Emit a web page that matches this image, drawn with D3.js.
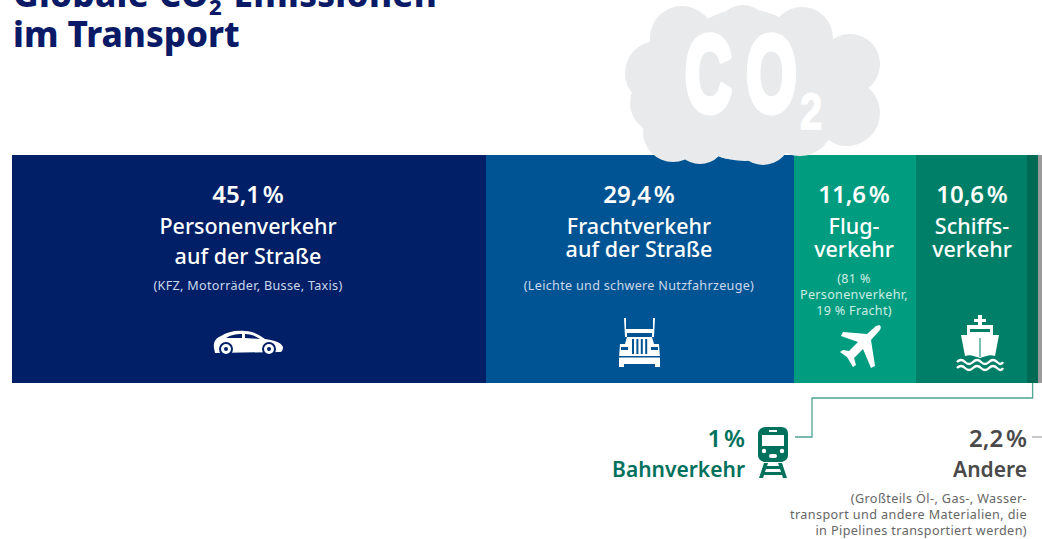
<!DOCTYPE html>
<html>
<head>
<meta charset="utf-8">
<script src="https://cdn.jsdelivr.net/npm/d3@7"></script>
<style>
html,body{margin:0;padding:0;background:#fff;overflow:hidden}
svg{display:block;font-family:"Noto Sans",sans-serif}
</style>
</head>
<body>
<div id="graph"></div>
<script>
var categories = ['Personenverkehr auf der Straße', 'Frachtverkehr auf der Straße', 'Flugverkehr', 'Schiffsverkehr', 'Bahnverkehr', 'Andere']
var values = [45.1, 29.4, 11.6, 10.6, 1, 2.2]
var valueLabels = ['45,1 %', '29,4 %', '11,6 %', '10,6 %', '1 %', '2,2 %']
var colors = ['#001f66', '#005493', '#009c80', '#007f68', '#006a55', '#9a9a9a']
var headLines = [['Personenverkehr', 'auf der Straße'], ['Frachtverkehr', 'auf der Straße'], ['Flug-', 'verkehr'], ['Schiffs-', 'verkehr']]
var subLines = [['(KFZ, Motorräder, Busse, Taxis)'], ['(Leichte und schwere Nutzfahrzeuge)'], ['(81 %', 'Personenverkehr,', '19 % Fracht)'], []]
var andereLines = ['(Großteils Öl-, Gas-, Wasser-', 'transport und andere Materialien, die', 'in Pipelines transportiert werden)']

var width = 1042
var height = 539
var barTop = 155
var barBottom = 383

var svg = d3.select('#graph').append('svg')
	.attr('width', width)
	.attr('height', height)

// the picture is cut off on the right, so the scale runs past the page
var xScale = d3.scaleLinear()
	.domain([0, 100])
	.range([12, 12 + 10.5 * 100])

var segments = []
var sum = 0
for (var i = 0; i < values.length; i++) {
	segments.push({ x0: sum, x1: sum + values[i], color: colors[i], name: categories[i] })
	sum += values[i]
}

svg.selectAll('rect.seg')
	.data(segments)
	.enter().append('rect')
	.attr('class', 'seg')
	.attr('x', function(d) { return Math.round(xScale(d.x0)) })
	.attr('width', function(d) { return Math.round(xScale(d.x1)) - Math.round(xScale(d.x0)) })
	.attr('y', barTop)
	.attr('height', barBottom - barTop)
	.attr('fill', function(d) { return d.color })

// title, top line is cut by the page edge
function title(txt, y) {
	return svg.append('text').attr('x', 13).attr('y', y)
		.attr('fill', '#0a1a66').attr('font-size', 35).attr('font-weight', 800).text(txt)
}
var t1 = title('Globale CO', 7).attr('letter-spacing', 0.3)
t1.append('tspan').attr('font-size', 22).attr('dy', 8).text('2')
t1.append('tspan').attr('dy', -8).text('-Emissionen')
title('im Transport', 47)

// cloud
var cloud = [[682,38,32],[743,31,26],[802,38,31],[850,64,30],[847,113,33],[657,73,32],[660,103,30],[673,132,30],[700,138,26],[730,135,24],[763,137,28],[800,123,33],[745,85,76],[805,85,45],[690,85,45]]
svg.append('g').selectAll('circle')
	.data(cloud)
	.enter().append('circle')
	.attr('cx', function(d) { return d[0] })
	.attr('cy', function(d) { return d[1] })
	.attr('r', function(d) { return d[2] })
	.attr('fill', '#e9eaeb')

svg.append('text').attr('transform', 'translate(685,111) scale(0.6,1)')
	.attr('font-family', 'Liberation Sans').attr('font-weight', 700)
	.attr('font-size', 108).attr('fill', '#fff').attr('stroke', '#fff').attr('stroke-width', 7)
	.attr('stroke-linejoin', 'round').attr('letter-spacing', 24).text('CO')
svg.append('text').attr('transform', 'translate(800,129) scale(0.8,1)')
	.attr('font-family', 'Liberation Sans').attr('font-weight', 700)
	.attr('font-size', 50).attr('fill', '#fff').attr('stroke', '#fff').attr('stroke-width', 1.5).text('2')

// labels inside the bar
function label(txt, x, y, size, weight, anchor, fill) {
	return svg.append('text').attr('x', x).attr('y', y)
		.attr('font-size', size).attr('font-weight', weight)
		.attr('text-anchor', anchor).attr('fill', fill).text(txt)
}

function percent(txt, x, y, weight, anchor, fill) {
	return label(txt, x, y, 24, weight, anchor, fill).attr('word-spacing', -3.5)
}

var centers = [248, 639, 854, 972]
var lineGap = [30, 23, 23, 23]
for (var k = 0; k < 4; k++) {
	percent(valueLabels[k], centers[k], 203, 600, 'middle', '#fff')
	for (var m = 0; m < headLines[k].length; m++) {
		label(headLines[k][m], centers[k], 234 + m * lineGap[k], 21.5, 500, 'middle', '#fff')
	}
	var subY = k < 2 ? 290 : 283
	for (var n = 0; n < subLines[k].length; n++) {
		label(subLines[k][n], centers[k], subY + n * 16, 12.6, 400, 'middle', k == 2 ? '#cdeee4' : '#ccd8ec')
			.attr('letter-spacing', 0.3)
	}
}

// labels under the bar
percent(valueLabels[4], 745, 447, 600, 'end', '#00715c')
label('Bahnverkehr', 745, 477, 21, 600, 'end', '#00715c')
percent(valueLabels[5], 1027, 447, 600, 'end', '#4a4a4a')
label('Andere', 1027, 477, 21, 600, 'end', '#4a4a4a')
for (var a = 0; a < andereLines.length; a++) {
	label(andereLines[a], 1027, 503 + a * 16, 12.6, 400, 'end', '#666').attr('letter-spacing', 0.4)
}

// leader lines
var railMid = xScale(97.2)
svg.append('path')
	.attr('d', 'M' + railMid + ',383V398H812V437H795')
	.attr('fill', 'none').attr('stroke', '#4fa393').attr('stroke-width', 1.3)
svg.append('path')
	.attr('d', 'M1032,437H1042')
	.attr('fill', 'none').attr('stroke', '#aaa').attr('stroke-width', 1.3)

// icons
var car = svg.append('g').attr('transform', 'translate(213,330)')
car.append('path').attr('fill', '#fff')
	.attr('d', 'M1,18C0,12 3,8 8,6C14,2 22,0 32,1C40,1 46,5 52,9C60,10 68,12 70,17C70,20 69,22 67,22L2,23Z')
car.selectAll('circle.w').data([13, 56]).enter().append('circle')
	.attr('cx', function(d) { return d }).attr('cy', 19).attr('r', 6)
	.attr('fill', '#fff').attr('stroke', '#001f66').attr('stroke-width', 2)
car.selectAll('circle.h').data([13, 56]).enter().append('circle')
	.attr('cx', function(d) { return d }).attr('cy', 19).attr('r', 2).attr('fill', '#001f66')
car.append('path').attr('fill', '#001f66').attr('d', 'M13,8C18,5 22,4 29,4L29,8ZM32,4C38,4 42,6 47,9L32,8Z')

var truck = svg.append('g').attr('transform', 'translate(619,317)').attr('fill', '#fff')
truck.append('path').attr('d', 'M5,1H7V12H34V1H36L35,20H33V16H8V20H6Z')
truck.append('path').attr('d', 'M8,20H33L35,27H40L41,41V50H36V47H5V50H0V41L1,27H6Z')
truck.selectAll('rect').data([0, 1, 2, 3]).enter().append('rect')
	.attr('x', function(d) { return 13 + d * 4.4 }).attr('y', 22).attr('width', 2).attr('height', 15)
	.attr('fill', '#005493')
truck.append('rect').attr('x', 2).attr('y', 30).attr('width', 7).attr('height', 3).attr('fill', '#005493')
truck.append('rect').attr('x', 32).attr('y', 30).attr('width', 7).attr('height', 3).attr('fill', '#005493')
truck.append('rect').attr('x', 0).attr('y', 39).attr('width', 41).attr('height', 1.5).attr('fill', '#005493')

svg.append('path').attr('fill', '#fff').attr('transform', 'translate(840,325)')
	.attr('d', 'M36,1C40,-1 42,1 40,5L31,15L35,41L31,43L23,24L14,33L16,40L13,42L7,32L0,27L3,25L9,26L18,17L1,11L3,7L27,9Z')

var ship = svg.append('g').attr('transform', 'translate(956,315)').attr('fill', '#fff')
ship.append('path').attr('d', 'M22,0H26V4H30V7H26V10H37V20H43L39,41C34,39 30,41 24,43C18,41 14,39 9,41L5,20H11V10H22V7H18V4H22Z')
ship.append('rect').attr('x', 14).attr('y', 14).attr('width', 20).attr('height', 3).attr('fill', '#007f68')
ship.append('path').attr('d', 'M24,23V42').attr('stroke', '#007f68').attr('stroke-width', 1)
ship.selectAll('path.wave').data([47, 53]).enter().append('path')
	.attr('d', function(d) { return 'M1,' + d + 'q4,-4 8,0t8,0t8,0t8,0t8,0t6,0' })
	.attr('fill', 'none').attr('stroke', '#fff').attr('stroke-width', 2.4)

var train = svg.append('g').attr('transform', 'translate(758,427)')
train.append('path').attr('fill', '#00715c')
	.attr('d', 'M8,0H23C28,0 30,3 30,7V28C30,32 27,34 24,35H6C3,34 0,32 0,28V7C0,3 3,0 8,0Z')
train.append('rect').attr('x', 4).attr('y', 8).attr('width', 22).attr('height', 11).attr('fill', '#fff')
train.append('rect').attr('x', 11).attr('y', 3).attr('width', 8).attr('height', 2).attr('fill', '#fff')
train.selectAll('circle').data([6, 24]).enter().append('circle')
	.attr('cx', function(d) { return d }).attr('cy', 24).attr('r', 2.2).attr('fill', '#fff')
train.append('rect').attr('x', 11).attr('y', 27).attr('width', 8).attr('height', 4).attr('rx', 2).attr('fill', '#fff')
train.append('path').attr('fill', '#00715c')
	.attr('d', 'M6,36H10L9,39H21L20,36H24L29,51H25L24,48H6L5,51H1ZM8,42L7,45H23L22,42Z')
</script>
</body>
</html>
